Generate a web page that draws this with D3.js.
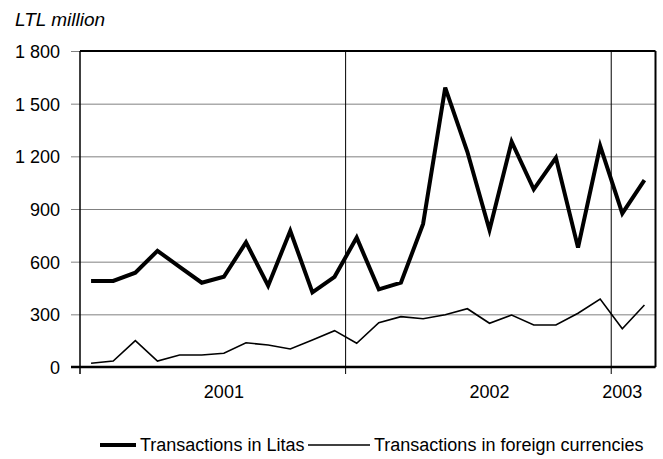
<!DOCTYPE html>
<html>
<head>
<meta charset="utf-8">
<script src="https://cdn.jsdelivr.net/npm/d3@7"></script>
<style>
  body { margin: 0; background: #fff; }
  text { font-family: "Liberation Sans", Arial, sans-serif; fill: #000; }
</style>
</head>
<body>
<svg id="svg" width="663" height="459"></svg>
<script>
'use strict'

// one category per month, Jan 2001 .. Feb 2003
var months = [
  '2001-01','2001-02','2001-03','2001-04','2001-05','2001-06',
  '2001-07','2001-08','2001-09','2001-10','2001-11','2001-12',
  '2002-01','2002-02','2002-03','2002-04','2002-05','2002-06',
  '2002-07','2002-08','2002-09','2002-10','2002-11','2002-12',
  '2003-01','2003-02'
];
var litas = [490, 490, 537, 662, 570, 480, 514, 710, 463, 776, 425, 514,
             737, 442, 480, 815, 1591, 1226, 780, 1283, 1012, 1192, 680, 1259,
             875, 1065];
var foreign = [21, 34, 150, 34, 68, 68, 78, 138, 125, 103, 154, 207,
               135, 252, 287, 275, 298, 332, 249, 296, 239, 239, 306, 387,
               218, 353];
var yTicks = [0, 300, 600, 900, 1200, 1500, 1800];
// where the year labels sit, and where a new year starts
var yearLabelAt = ['2001-07', '2002-07', '2003-01'];
var yearStarts = ['2002-01', '2003-01'];
var seriesNames = ['Transactions in Litas', 'Transactions in foreign currencies'];

var pLeft = 80, pRight = 655.5, pTop = 51, pBottom = 367;

var svg = d3.select('#svg');

var x = d3.scaleBand().domain(months).range([pLeft, pRight]).padding(0);
var y = d3.scaleLinear().domain([0, 1800]).range([pBottom, pTop]);

var fmt = function(d) { return d3.format(',')(d).replace(',', ' '); };

// horizontal grid + left ticks + labels
var yAxis = svg.append('g')
    .attr('transform', 'translate(' + pRight + ',0)')
    .call(d3.axisLeft(y).tickValues(yTicks).tickFormat(fmt)
      .tickSize(pRight - 71).tickPadding(11));
yAxis.select('.domain').remove();
yAxis.selectAll('line').attr('stroke', '#808080').attr('stroke-width', 1);
yAxis.selectAll('text').attr('font-size', 18).attr('dy', '0.36em');

// year separators
svg.selectAll('.sep')
    .data(yearStarts)
  .enter().append('line')
    .attr('class', 'sep')
    .attr('x1', function(d) { return x(d); })
    .attr('x2', function(d) { return x(d); })
    .attr('y1', pTop)
    .attr('y2', pBottom + 7)
    .attr('stroke', '#000')
    .attr('stroke-width', 1);

// frame
svg.append('line').attr('x1', pLeft).attr('x2', pLeft).attr('y1', pTop).attr('y2', pBottom + 7)
    .attr('stroke', '#000').attr('stroke-width', 1.5);
svg.append('line').attr('x1', pLeft).attr('x2', pRight).attr('y1', pTop).attr('y2', pTop)
    .attr('stroke', '#000').attr('stroke-width', 2);
svg.append('line').attr('x1', pRight).attr('x2', pRight).attr('y1', pTop).attr('y2', pBottom)
    .attr('stroke', '#000').attr('stroke-width', 2);
svg.append('line').attr('x1', 71).attr('x2', pRight).attr('y1', pBottom).attr('y2', pBottom)
    .attr('stroke', '#000').attr('stroke-width', 2.5);

// year labels
var xAxis = svg.append('g')
    .attr('transform', 'translate(0,' + pBottom + ')')
    .call(d3.axisBottom(x).tickValues(yearLabelAt)
      .tickFormat(function(d) { return d.slice(0, 4); })
      .tickSize(0).tickPadding(31));
xAxis.select('.domain').remove();
xAxis.selectAll('text').attr('font-size', 18).attr('dy', 0);

var line = d3.line()
    .x(function(d, i) { return x(months[i]) + x.bandwidth() / 2; })
    .y(function(d) { return y(d); });

svg.append('path').datum(foreign)
    .attr('d', line)
    .attr('fill', 'none')
    .attr('stroke', '#000')
    .attr('stroke-width', 1.6);

svg.append('path').datum(litas)
    .attr('d', line)
    .attr('fill', 'none')
    .attr('stroke', '#000')
    .attr('stroke-width', 4);

// unit title
svg.append('text')
    .attr('x', 15).attr('y', 26)
    .attr('font-size', 19)
    .attr('font-style', 'italic')
    .text('LTL million');

// legend
var legend = [
  {name: seriesNames[0], x1: 100, x2: 136, w: 4},
  {name: seriesNames[1], x1: 308, x2: 370, w: 1.6}
];
var lg = svg.selectAll('.lg').data(legend).enter().append('g').attr('class', 'lg');
lg.append('line')
    .attr('x1', function(d) { return d.x1; })
    .attr('x2', function(d) { return d.x2; })
    .attr('y1', 445).attr('y2', 445)
    .attr('stroke', '#000')
    .attr('stroke-width', function(d) { return d.w; });
lg.append('text')
    .attr('x', function(d) { return d.x2 + 4; })
    .attr('y', 451)
    .attr('font-size', 18)
    .text(function(d) { return d.name; });
</script>
</body>
</html>
